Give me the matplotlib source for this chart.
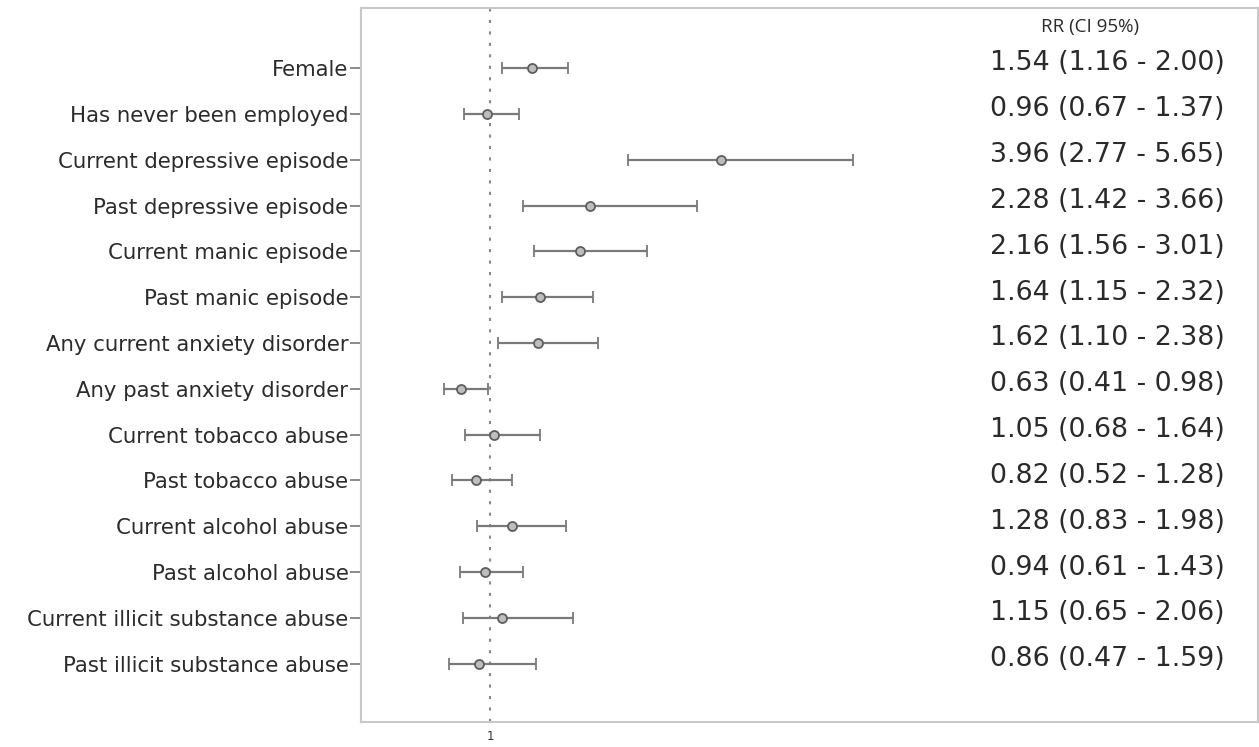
import matplotlib.pyplot as plt
import matplotlib.transforms as mtransforms

# valeurs
labels = ['Female', 'Has never been employed', 'Current depressive episode',
          'Past depressive episode', 'Current manic episode', 'Past manic episode',
          'Any current anxiety disorder', 'Any past anxiety disorder',
          'Current tobacco abuse', 'Past tobacco abuse', 'Current alcohol abuse',
          'Past alcohol abuse', 'Current illicit substance abuse',
          'Past illicit substance abuse']
rr = [1.54, 0.96, 3.96, 2.28, 2.16, 1.64, 1.62, 0.63, 1.05, 0.82, 1.28, 0.94, 1.15, 0.86]
ci_low = [1.16, 0.67, 2.77, 1.42, 1.56, 1.15, 1.10, 0.41, 0.68, 0.52, 0.83, 0.61, 0.65, 0.47]
ci_high = [2.00, 1.37, 5.65, 3.66, 3.01, 2.32, 2.38, 0.98, 1.64, 1.28, 1.98, 1.43, 2.06, 1.59]

fig = plt.figure(figsize=(12.59, 7.47), dpi=100)
ax = fig.add_axes([0.2867, 0.0335, 0.7125, 0.9558])

y = list(range(len(labels)))
err = [[r - lo for r, lo in zip(rr, ci_low)], [hi - r for r, hi in zip(rr, ci_high)]]

ax.axvline(1, color='#8a8a8a', linestyle=(0, (1.5, 4)), linewidth=1.5, zorder=1)
ax.errorbar(rr, y, xerr=err, fmt='o', color='#6e6e6e', ecolor='#7a7a7a',
            elinewidth=1.6, capsize=4, capthick=1.6, markersize=6.5,
            markerfacecolor='#bdbdbd', markeredgecolor='#5e5e5e', markeredgewidth=1.3,
            zorder=3)

ax.set_xlim(-0.654, 10.85)
ax.set_ylim(len(labels) - 1 + 1.27, -1.31)
ax.set_yticks(y)
ax.set_yticklabels(labels, fontsize=15.3, color='#2b2b2b')
ax.set_xticks([1])
ax.set_xticklabels(['1'], fontsize=8.5, color='#333333')
ax.tick_params(axis='y', length=8, width=1.2, color='#777777', pad=1)
ax.tick_params(axis='x', length=0, pad=6)

for s in ax.spines.values():
    s.set_color('#c8c8c8')
    s.set_linewidth(1.5)

trans = mtransforms.blended_transform_factory(ax.transAxes, ax.transData)
for i in y:
    txt = f'{rr[i]:.2f} ({ci_low[i]:.2f} - {ci_high[i]:.2f})'
    ax.text(0.963, i - 0.1, txt, transform=trans, ha='right', va='center',
            fontsize=19.3, color='#2a2a2a')
ax.text(0.813, -0.89, 'RR (CI 95%)', transform=trans, ha='center', va='center',
        fontsize=13.5, color='#2a2a2a', family='Open Sans')

fig.savefig('out.png', dpi=100)
